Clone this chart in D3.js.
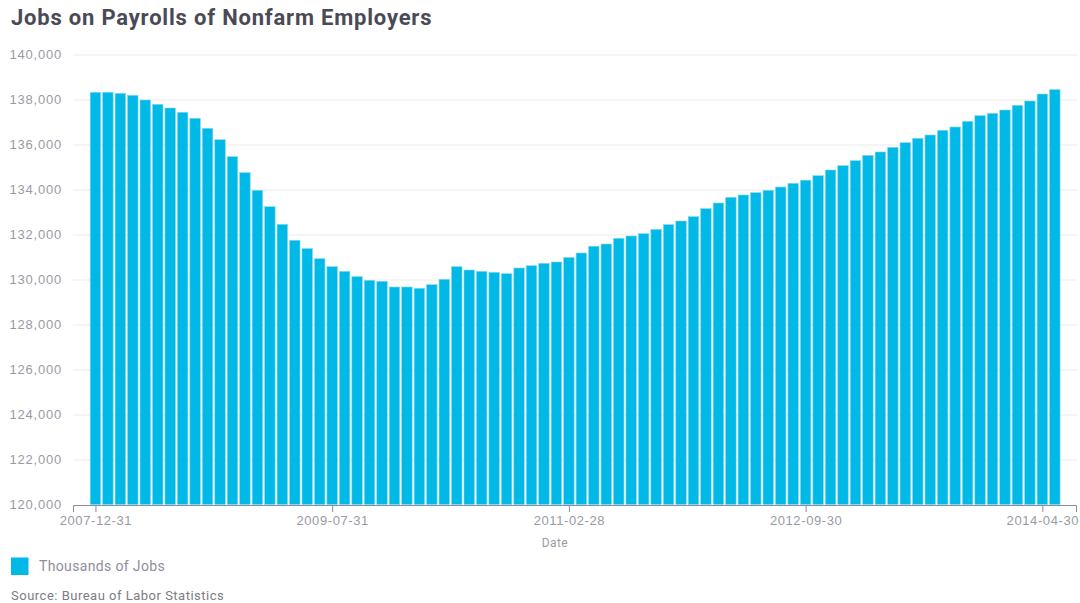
<!DOCTYPE html>
<html lang="en">
<head>
    <meta charset="utf-8">
    <title>Jobs on Payrolls of Nonfarm Employers</title>
    <script src="https://d3js.org/d3.v7.min.js" charset="utf-8"></script>
    <style>
        body { margin: 0; background: #fff; }
        svg { display: block; font-family: Roboto, "Noto Sans", sans-serif; }
        .grid line { stroke: #ebebeb; stroke-width: 1; }
        .grid .domain { display: none; }
        .grid .tick text { letter-spacing: 0.8px; }
        .xaxis path, .xaxis line { stroke: #8c8c96; stroke-width: 1; }
        .xaxis .tick text { letter-spacing: 0.6px; }
        .tick text { fill: #9a9aa4; font-size: 13px; }
    </style>
</head>
<body>
<svg width="1080" height="603"></svg>
<script type="text/javascript">
    // thousands of jobs, monthly, Dec 2007 .. May 2014
    var jobs = [
        138320, 138320, 138276, 138187, 137978, 137786, 137622, 137431, 137164, 136720,
        136213, 135458, 134747, 133964, 133236, 132453, 131742, 131375, 130924, 130569,
        130363, 130126, 129964, 129920, 129667, 129667, 129609, 129769, 130009, 130569,
        130422, 130363, 130320, 130258, 130511, 130613, 130720, 130778, 130978, 131178,
        131480, 131578, 131830, 131933, 132037, 132230, 132437, 132600, 132793, 133148,
        133400, 133652, 133756, 133859, 133963, 134111, 134274, 134415, 134615, 134867,
        135059, 135281, 135519, 135667, 135874, 136081, 136274, 136422, 136630, 136778,
        137030, 137281, 137385, 137533, 137741, 137933, 138244, 138437
    ];
    var xTickIndex = [0, 19, 38, 57, 76];
    var xTickLabels = ["2007-12-31", "2009-07-31", "2011-02-28", "2012-09-30", "2014-04-30"];
    var yTicks = [120000, 122000, 124000, 126000, 128000, 130000, 132000, 134000, 136000, 138000, 140000];

    var svg = d3.select("svg");
    var mLeft = 73, mRight = 1076, mTop = 54.5, mBottom = 504.5;

    var x = d3.scaleLinear().domain([-1.8, 78.7]).range([mLeft, mRight]);
    var y = d3.scaleLinear().domain([120000, 140000]).range([mBottom, mTop]);
    var barW = 10.5;

    svg.append("text")
        .attr("x", 11).attr("y", 25)
        .attr("font-size", "22px").attr("font-weight", 700)
        .attr("letter-spacing", "0.8px")
        .attr("fill", "#4a4a56")
        .text("Jobs on Payrolls of Nonfarm Employers");

    // gridlines + y labels
    var grid = svg.append("g").attr("class", "grid")
        .attr("transform", "translate(" + mLeft + ",0)")
        .call(d3.axisLeft(y).tickValues(yTicks).tickSize(-(1077 - mLeft)).tickPadding(11)
            .tickFormat(d3.format(",")));
    grid.selectAll(".tick").filter(function (d) { return d === 120000; }).select("line").remove();

    svg.append("g").selectAll("rect").data(jobs).enter()
        .append("rect")
        .attr("x", function (d, i) { return x(i) - barW / 2; })
        .attr("width", barW)
        .attr("y", function (d) { return y(d); })
        .attr("height", function (d) { return y(120000) - y(d); })
        .attr("fill", "#00b9e7")
        .attr("stroke", "#7fd9f2")
        .attr("stroke-width", 0.6);

    svg.append("g").attr("class", "xaxis")
        .attr("transform", "translate(0," + (mBottom + 0.5) + ")")
        .call(d3.axisBottom(x).tickValues(xTickIndex).tickSize(7).tickSizeOuter(7).tickPadding(4)
            .tickFormat(function (d, i) { return xTickLabels[i]; }));

    svg.append("text")
        .attr("x", 555).attr("y", 547)
        .attr("text-anchor", "middle")
        .attr("font-size", "12px").attr("fill", "#9a9aa4")
        .attr("letter-spacing", "0.4px")
        .text("Date");

    svg.append("rect")
        .attr("x", 11).attr("y", 557.5).attr("width", 17.5).attr("height", 17.5)
        .attr("fill", "#00b9e7");
    svg.append("text")
        .attr("x", 39).attr("y", 571)
        .attr("font-size", "14px").attr("fill", "#8e8e98")
        .attr("letter-spacing", "0.35px")
        .text("Thousands of Jobs");

    svg.append("text")
        .attr("x", 11).attr("y", 600)
        .attr("font-size", "13px").attr("fill", "#7c7c86")
        .attr("letter-spacing", "0.5px")
        .text("Source: Bureau of Labor Statistics");
</script>
</body>
</html>
